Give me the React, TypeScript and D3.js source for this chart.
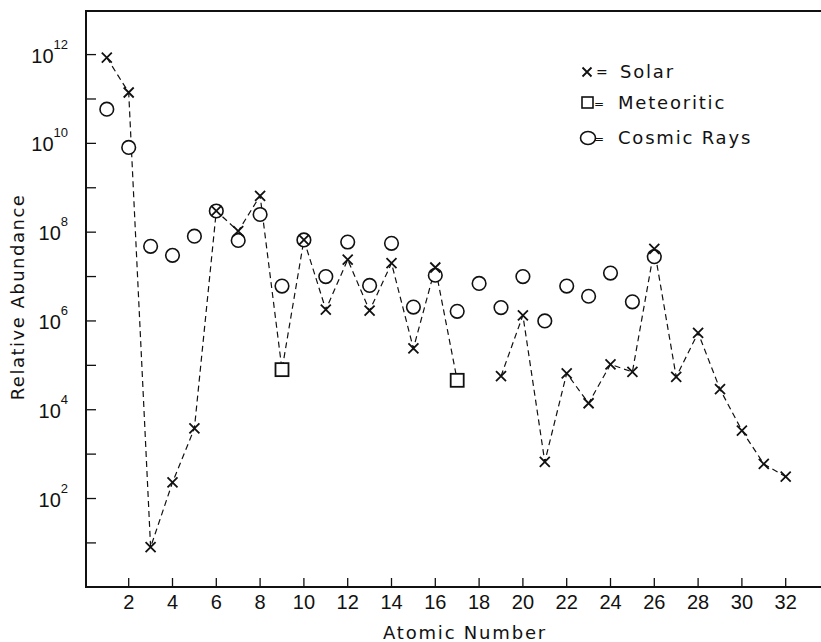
import React from "react";
import * as d3 from "d3";

// ---- data ----
const solarZ = [1, 2, 3, 4, 5, 6, 7, 8, 10, 11, 12, 13, 14, 15, 16, 19, 20, 21, 22, 23, 24, 25, 26, 27, 28, 29, 30, 31, 32];
const solarV = [8.5e11, 1.4e11, 8, 230, 3800, 3e8, 1.05e8, 6.6e8, 6.7e7, 1.8e6, 2.4e7, 1.7e6, 2e7, 2.4e5, 1.6e7, 5.7e4, 1.34e6, 670, 6.6e4, 1.4e4, 1.05e5, 7.1e4, 4.2e7, 5.5e4, 5.4e5, 2.9e4, 3.4e3, 600, 310];
const meteorZ = [9, 17];
const meteorV = [8e4, 4.6e4];
const cosmicZ = [1, 2, 3, 4, 5, 6, 7, 8, 9, 10, 11, 12, 13, 14, 15, 16, 17, 18, 19, 20, 21, 22, 23, 24, 25, 26];
const cosmicV = [5.9e10, 8.1e9, 4.8e7, 3e7, 8.1e7, 3e8, 6.5e7, 2.5e8, 6.1e6, 6.7e7, 1e7, 6e7, 6.3e6, 5.6e7, 2.05e6, 1.07e7, 1.65e6, 7e6, 2e6, 1e7, 1e6, 6.1e6, 3.6e6, 1.2e7, 2.7e6, 2.8e7];
const xTicks = [2, 4, 6, 8, 10, 12, 14, 16, 18, 20, 22, 24, 26, 28, 30, 32];
const yLabelExps = [2, 4, 6, 8, 10, 12];
const yTickExps = [1, 2, 3, 4, 5, 6, 7, 8, 9, 10, 11, 12];
const legendLabels = ["Solar", "Meteoritic", "Cosmic Rays"];

const W = 821;
const H = 642;
const left = 86;
const top = 11;
const bottom = 587;

const labelFont = "'DejaVu Sans', sans-serif";
const tickFont = "'Liberation Sans', sans-serif";

export default function App() {
  const x = d3.scaleLinear().domain([0, 33]).range([84.9, 84.9 + 33 * 21.9]);
  const y = d3.scaleLog().domain([1, 1e13]).range([587.3, 10.2]);

  // combined connected series (solar + meteoritic), gap where no value
  const combined: { z: number; v: number | null }[] = [];
  for (let z = 1; z <= 32; z++) {
    const si = solarZ.indexOf(z);
    const mi = meteorZ.indexOf(z);
    const v = si >= 0 ? solarV[si] : mi >= 0 ? meteorV[mi] : null;
    combined.push({ z, v });
  }
  const line = d3
    .line<{ z: number; v: number | null }>()
    .defined((d) => d.v != null)
    .x((d) => x(d.z))
    .y((d) => y(d.v as number));

  const cross = (cx: number, cy: number, s: number, key: string) => (
    <path
      key={key}
      d={`M${cx - s},${cy - s}L${cx + s},${cy + s}M${cx - s},${cy + s}L${cx + s},${cy - s}`}
      stroke="#111"
      strokeWidth={1.8}
      fill="none"
    />
  );

  return (
    <svg
      width={W}
      height={H}
      style={{ position: "absolute", left: 0, top: 0, background: "#fff" }}
    >
      <rect x={0} y={0} width={W} height={H} fill="#fff" />
      {/* frame */}
      <path d={`M${W},${top}H${left}V${bottom}H${W}`} fill="none" stroke="#111" strokeWidth={2} />

      {/* y ticks */}
      {yTickExps.map((e) => (
        <line key={"yt" + e} x1={left} x2={left + 10} y1={y(10 ** e)} y2={y(10 ** e)} stroke="#111" strokeWidth={1.3} />
      ))}
      {yLabelExps.map((e) => (
        <text key={"yl" + e} x={68} y={y(10 ** e) + 8} textAnchor="end" fontFamily={tickFont} fontSize={20} fill="#111">
          10
          <tspan dy={-14} fontSize={13}>
            {String(e)}
          </tspan>
        </text>
      ))}

      {/* x ticks */}
      {xTicks.map((t) => (
        <g key={"xt" + t}>
          <line x1={x(t)} x2={x(t)} y1={bottom} y2={bottom - 9} stroke="#111" strokeWidth={1.3} />
          <text x={x(t)} y={609} textAnchor="middle" fontFamily={tickFont} fontSize={20} fill="#111">
            {t}
          </text>
        </g>
      ))}

      {/* axis titles */}
      <text x={465} y={639} textAnchor="middle" fontFamily={labelFont} fontSize={18} letterSpacing={1.8} fill="#111">
        Atomic Number
      </text>
      <text
        transform="translate(24,297) rotate(-90)"
        textAnchor="middle"
        fontFamily={labelFont}
        fontSize={18}
        letterSpacing={1.5}
        fill="#111"
      >
        Relative Abundance
      </text>

      {/* dashed connecting line */}
      <path d={line(combined) || ""} fill="none" stroke="#111" strokeWidth={1.2} strokeDasharray="6,4" />

      {/* cosmic rays circles */}
      {cosmicZ.map((z, i) => (
        <circle key={"c" + z} cx={x(z)} cy={y(cosmicV[i])} r={6.8} fill="#fff" stroke="#111" strokeWidth={1.6} />
      ))}
      {/* meteoritic squares */}
      {meteorZ.map((z, i) => (
        <rect key={"m" + z} x={x(z) - 6.5} y={y(meteorV[i]) - 6.5} width={13} height={13} fill="#fff" stroke="#111" strokeWidth={1.8} />
      ))}
      {/* solar crosses */}
      {solarZ.map((z, i) => cross(x(z), y(solarV[i]), 5, "s" + z))}

      {/* legend */}
      {cross(587, 72, 4.5, "lg1")}
      <text x={596} y={77} fontFamily={labelFont} fontSize={14} fill="#111">=</text>
      <text x={620} y={78} fontFamily={labelFont} fontSize={18} letterSpacing={1.8} fill="#111">
        {legendLabels[0]}
      </text>
      <rect x={582} y={97} width={11} height={11} fill="none" stroke="#111" strokeWidth={1.6} />
      <text x={594} y={108} fontFamily={labelFont} fontSize={12} fill="#111">=</text>
      <text x={618} y={109} fontFamily={labelFont} fontSize={18} letterSpacing={1.8} fill="#111">
        {legendLabels[1]}
      </text>
      <ellipse cx={588} cy={138} rx={7.5} ry={6.5} fill="none" stroke="#111" strokeWidth={1.6} />
      <text x={594} y={143} fontFamily={labelFont} fontSize={12} fill="#111">=</text>
      <text x={618} y={144} fontFamily={labelFont} fontSize={18} letterSpacing={1.8} fill="#111">
        {legendLabels[2]}
      </text>
    </svg>
  );
}
